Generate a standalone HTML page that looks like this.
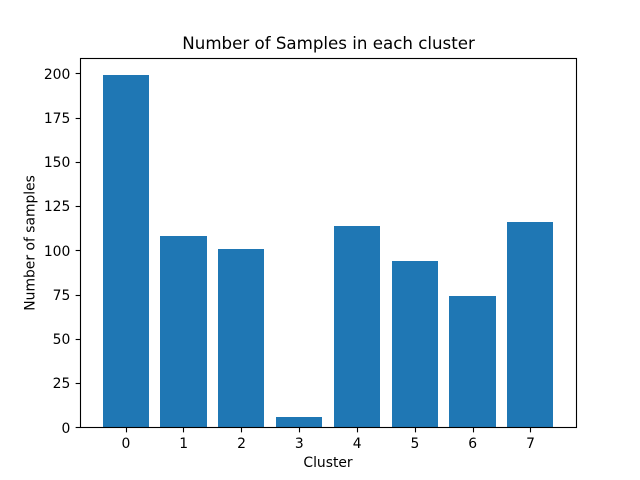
<!DOCTYPE html>
<html>
<head>
<meta charset="utf-8">
<title>Number of Samples in each cluster</title>
<style>
html,body{margin:0;padding:0;background:#fff;}
svg{display:block;}
text{font-family:"DejaVu Sans",sans-serif;fill:#000;}
</style>
</head>
<body>
<svg id="chart" xmlns="http://www.w3.org/2000/svg" width="640" height="480" viewBox="0 0 640 480"></svg>
<script>
const categories = [0, 1, 2, 3, 4, 5, 6, 7];
const sampleCounts = [199, 108, 101, 6, 114, 94, 74, 116];
const yTickLabels = [0, 25, 50, 75, 100, 125, 150, 175, 200];
const chartTitle = 'Number of Samples in each cluster';
const xAxisLabel = 'Cluster';
const yAxisLabel = 'Number of samples';

const NS = 'http://www.w3.org/2000/svg';
const svg = document.getElementById('chart');
const plot = { left: 80, right: 576, top: 57.6, bottom: 427.2 };
const barWidth = 0.8;

const xMinData = Math.min(...categories) - barWidth / 2;
const xMaxData = Math.max(...categories) + barWidth / 2;
const xMargin = (xMaxData - xMinData) * 0.05;
const yMaxData = Math.max(...sampleCounts) * 1.05;

function xScale(v) {
  return plot.left + (v - (xMinData - xMargin)) / ((xMaxData + xMargin) - (xMinData - xMargin)) * (plot.right - plot.left);
}
function yScale(v) {
  return plot.bottom - v / yMaxData * (plot.bottom - plot.top);
}
function snapLine(v) {
  return Math.round(v) + 0.5;
}
function make(tag, attrs, parent) {
  const el = document.createElementNS(NS, tag);
  for (const k in attrs) el.setAttribute(k, attrs[k]);
  (parent || svg).appendChild(el);
  return el;
}

const background = make('rect', { x: 0, y: 0, width: 640, height: 480, fill: '#fff' });



categories.forEach(function (c, i) {
  const x0 = Math.round(xScale(c - barWidth / 2));
  const x1 = Math.round(xScale(c + barWidth / 2));
  const yTop = Math.round(yScale(sampleCounts[i]));
  const yBase = Math.round(yScale(0));
  const bar = make('rect', { x: x0, y: yTop, width: x1 - x0, height: yBase - yTop, fill: '#1f77b4', 'shape-rendering': 'crispEdges' });
  
  
});

categories.forEach(function (c) {
  const x = snapLine(xScale(c));
  const yStart = snapLine(plot.bottom);
  const tick = make('line', { x1: x, x2: x, y1: yStart, y2: yStart + 4.86, stroke: '#000', 'stroke-width': 1.11 });
  
  
  const label = make('text', { x: xScale(c) + 0.2, y: 448, 'font-size': 13.89, 'text-anchor': 'middle' });
  label.textContent = c;
  
  
});

yTickLabels.forEach(function (v) {
  const y = snapLine(yScale(v));
  const tick = make('line', { x1: snapLine(plot.left) - 4.86, x2: snapLine(plot.left), y1: y, y2: y, stroke: '#000', 'stroke-width': 1.11 });
  
  
  const label = make('text', { x: plot.left - 9.7, y: Math.round(yScale(v) + 5.3), 'font-size': 13.89, 'text-anchor': 'end' });
  label.textContent = v;
  
  
});

const frameLeft = snapLine(plot.left);
const frameRight = snapLine(plot.right);
const frameTop = snapLine(plot.top);
const frameBottom = snapLine(plot.bottom);
const frame = make('rect', { x: frameLeft, y: frameTop, width: frameRight - frameLeft, height: frameBottom - frameTop, fill: 'none', stroke: '#000', 'stroke-width': 1.11 });



const title = make('text', { x: (plot.left + plot.right) / 2 + 0.6, y: 49, 'font-size': 16.67, 'text-anchor': 'middle' });
title.textContent = chartTitle;



const xTitle = make('text', { x: (plot.left + plot.right) / 2, y: 467, 'font-size': 13.89, 'text-anchor': 'middle' });
xTitle.textContent = xAxisLabel;



const yCenter = (plot.top + plot.bottom) / 2 + 0.5;
const yTitleX = 34.5;
const yTitle = make('text', { x: yTitleX, y: yCenter, 'font-size': 13.89, 'text-anchor': 'middle', transform: 'rotate(-90 ' + yTitleX + ' ' + yCenter + ')' });
yTitle.textContent = yAxisLabel;


</script>
</body>
</html>
